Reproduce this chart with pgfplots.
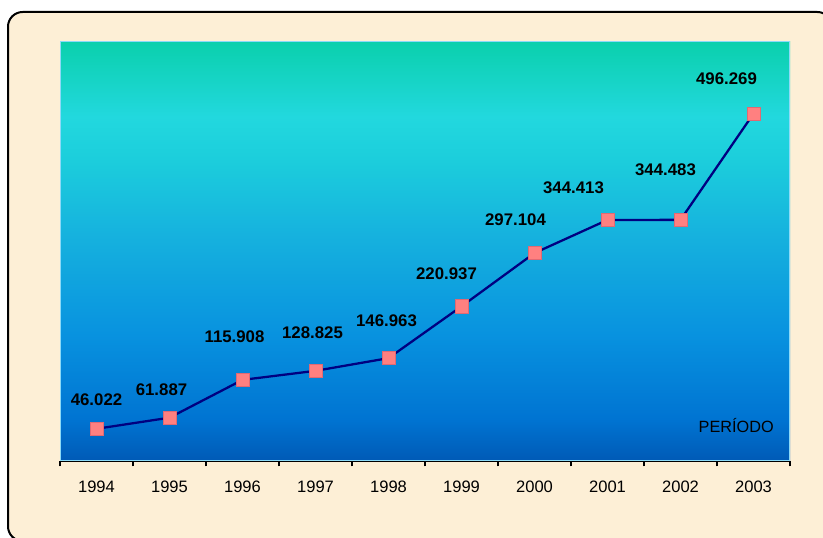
\documentclass[border=0pt]{standalone}
\usepackage{pgfplots}
\pgfplotsset{compat=1.18}
\usepackage{pgfplotstable}
\usepackage{fontspec}
\setmainfont{Liberation Sans}

\definecolor{paper}{RGB}{253,239,214}
\definecolor{linenavy}{RGB}{0,0,128}
\definecolor{markpink}{RGB}{255,128,128}
\definecolor{markedge}{RGB}{225,105,115}
\definecolor{gA}{RGB}{0,90,182}
\definecolor{gB}{RGB}{0,116,210}
\definecolor{gC}{RGB}{8,146,223}
\definecolor{gD}{RGB}{22,178,222}
\definecolor{gE}{RGB}{28,206,220}
\definecolor{gF}{RGB}{34,216,222}
\definecolor{gG}{RGB}{10,208,172}

% vertical gradient of the plot area (middle 50bp span the area)
\pgfdeclareverticalshading{plotgrad}{100bp}{%
  color(0bp)=(gA); color(25bp)=(gA); color(30bp)=(gB); color(40bp)=(gC);
  color(52bp)=(gD); color(61bp)=(gE); color(66bp)=(gF); color(75bp)=(gG);
  color(100bp)=(gG)}

% year index, value, label offset (px, relative to the point)
\pgfplotstableread{
x    y       dx   dy
0.5  46022    0   29
1.5  61887   -8   28
2.5  115908  -8   43
3.5  128825  -3   38
4.5  146963  -2   37
5.5  220937 -15   33
6.5  297104 -19   33
7.5  344413 -34   32
8.5  344483 -15   50
9.5  496269 -27   35
}\datatable

\begin{document}
\begin{tikzpicture}[x=0.75pt,y=0.75pt]
  \useasboundingbox (0,0) rectangle (823,537);
  \clip (0,0) rectangle (823,537);
  \fill[white] (0,0) rectangle (823,537);
  \draw[line width=1.5pt, rounded corners=11pt, fill=paper] (8,-4) rectangle (832,525);

  \begin{axis}[
    at={(45pt,57pt)}, anchor=south west,
    scale only axis, width=547.5pt, height=315pt,
    xmin=0, xmax=10, ymin=0, ymax=600000,
    clip=false,
    axis background/.style={shade, shading=plotgrad},
    axis y line=none,
    axis x line*=bottom,
    x axis line style={-, line width=1.3pt, black},
    xtick={0,...,10},
    x tick label as interval,
    xticklabels={1994,1995,1996,1997,1998,1999,2000,2001,2002,2003},
    tick align=outside,
    major tick length=4pt,
    every tick/.style={black, line width=1pt},
    xticklabel style={font=\fontsize{12.4}{14}\selectfont, yshift=-7.5pt},
    /pgf/number format/assume math mode=true,
    visualization depends on={\thisrow{dx}\as\dx},
    visualization depends on={\thisrow{dy}\as\dy},
    nodes near coords={\pgfmathprintnumber[fixed,precision=0,1000 sep={.}]{\pgfplotspointmeta}},
    nodes near coords style={anchor=center, font=\fontsize{12.6}{14}\selectfont\bfseries,
      xshift=\dx*0.75pt, yshift=\dy*0.75pt, text=black},
  ]
    \draw[white!55!cyan, line width=0.8pt]
      ([xshift=0.4pt,yshift=0.4pt]rel axis cs:0,0) rectangle ([xshift=-0.4pt,yshift=-0.4pt]rel axis cs:1,1);
    \addplot[linenavy, line width=1.7pt, mark=square*, mark size=5pt,
      mark options={fill=markpink, draw=markedge, line width=0.5pt},
      point meta=y] table[x=x, y=y] {\datatable};
    \node[anchor=base east, font=\fontsize{12.2}{14}\selectfont, inner sep=0pt]
      at ([xshift=-12pt, yshift=21.75pt]rel axis cs:1,0) {PERÍODO};
  \end{axis}
\end{tikzpicture}
\end{document}
